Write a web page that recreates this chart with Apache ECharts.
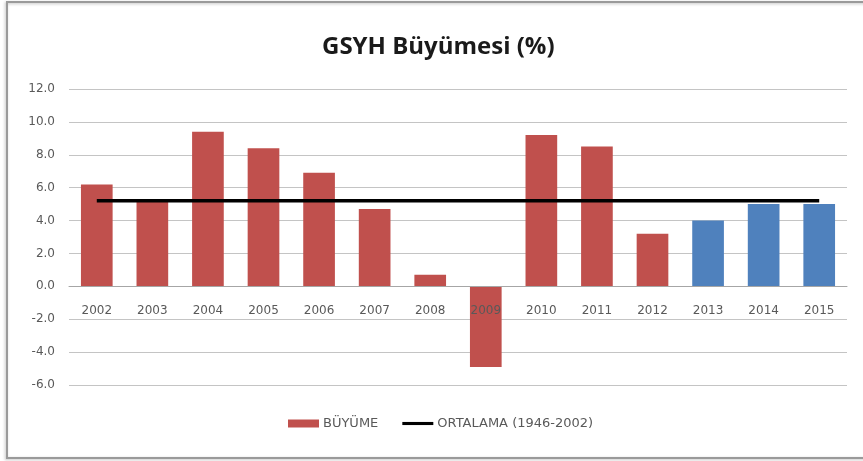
<!DOCTYPE html>
<html>
<head>
<meta charset="utf-8">
<script src="https://cdn.jsdelivr.net/npm/echarts@6/dist/echarts.min.js"></script>
<style>
  html, body { margin: 0; padding: 0; background: #ffffff; }
  #chart { width: 863px; height: 461px; }
</style>
</head>
<body>
<div id="chart"></div>
<script>
// Yıllık GSYH büyüme oranları (%)
const years = ['2002','2003','2004','2005','2006','2007','2008','2009','2010','2011','2012','2013','2014','2015'];
const growth = [6.2, 5.3, 9.4, 8.4, 6.9, 4.7, 0.7, -4.9, 9.2, 8.5, 3.2, 4.0, 5.0, 5.0];
// 2013 sonrası tahmin yılları (mavi)
const forecastYears = ['2013', '2014', '2015'];
// Uzun dönem ortalama (1946-2002)
const averageValue = 5.2;
const yTicks = { min: -6, max: 12, interval: 2 };

const RED = '#C0504D';
const BLUE = '#4F81BD';
const TEXT = '#595959';
const FONT = 'DejaVu Sans';
const GRID = { left: 69, right: 16, top: 89, bottom: 76 };
const H = 461;

const chart = echarts.init(document.getElementById('chart'), null, { renderer: 'canvas' });

const barData = growth.map((v, i) => ({
  value: v,
  itemStyle: { color: forecastYears.includes(years[i]) ? BLUE : RED }
}));
const avgData = years.map(() => averageValue);

chart.setOption({
  backgroundColor: '#ffffff',
  animation: false,
  graphic: [{
    type: 'rect',
    shape: { x: 7, y: 2, width: 900, height: 456 },
    style: {
      fill: 'none', stroke: '#9a9a9a', lineWidth: 2,
      shadowColor: 'rgba(0,0,0,0.25)', shadowBlur: 3, shadowOffsetX: -1, shadowOffsetY: 1
    },
    silent: true
  }],
  title: {
    text: 'GSYH Büyümesi (%)',
    left: 322,
    top: 35,
    padding: 0,
    textStyle: { fontFamily: 'Open Sans', fontWeight: 'bold', fontSize: 24, color: '#1a1a1a' }
  },
  legend: {
    left: 288,
    top: 417,
    padding: 0,
    itemWidth: 31,
    itemHeight: 8,
    itemGap: 24,
    textStyle: { fontFamily: FONT, fontSize: 13, color: TEXT, padding: [0, 0, 0, -1] },
    data: [
      { name: 'BÜYÜME', icon: 'rect', itemStyle: { color: RED } },
      { name: 'ORTALAMA (1946-2002)', icon: 'path://M0,0H100V10H0Z', itemStyle: { color: '#000000' } }
    ]
  },
  grid: Object.assign({ containLabel: false }, GRID),
  xAxis: {
    type: 'category',
    z: 5,
    data: years,
    axisLine: { onZero: false, lineStyle: { color: '#a6a6a6', width: 1 } },
    axisTick: { show: false },
    axisLabel: { margin: 19, fontFamily: FONT, fontSize: 12, color: TEXT }
  },
  yAxis: {
    type: 'value',
    min: yTicks.min,
    max: yTicks.max,
    interval: yTicks.interval,
    axisLine: { show: false },
    axisTick: { show: false },
    splitLine: { lineStyle: { color: '#c4c4c4', width: 1 } },
    axisLabel: {
      margin: 14,
      fontFamily: FONT, fontSize: 12, color: TEXT,
      formatter: v => v.toFixed(1)
    }
  },
  series: [
    {
      name: 'BÜYÜME',
      type: 'bar',
      barWidth: '57%',
      itemStyle: { color: RED },
      data: barData
    },
    {
      name: 'ORTALAMA (1946-2002)',
      type: 'line',
      symbol: 'none',
      lineStyle: { color: '#000000', width: 3.5 },
      itemStyle: { color: '#000000' },
      data: avgData
    }
  ]
});

// Move the category axis (line and labels) up to the zero line.
const zeroY = chart.convertToPixel({ yAxisIndex: 0 }, 0);
const bottomY = H - GRID.bottom;
chart.setOption({ xAxis: { offset: zeroY - bottomY } });
</script>
</body>
</html>
